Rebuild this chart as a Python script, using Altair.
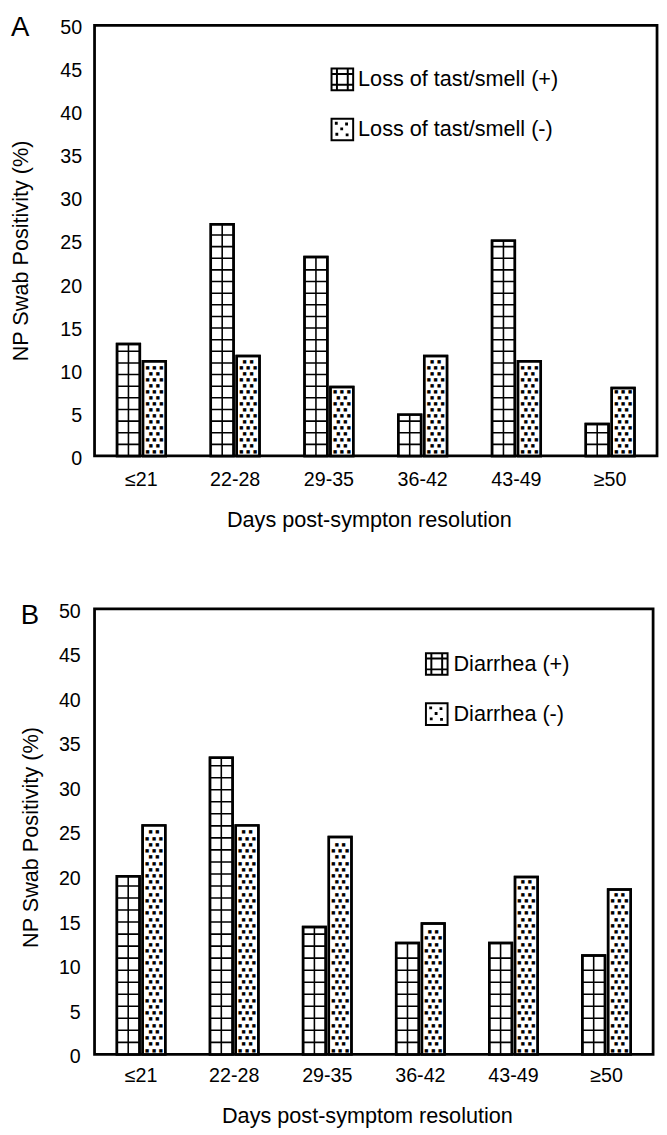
import altair as alt
import pandas as pd

# ---------------- data ----------------
categories = ["≤21", "22-28", "29-35", "36-42", "43-49", "≥50"]

a_series = ["Loss of tast/smell (+)", "Loss of tast/smell (-)"]
a_pos = [13.0, 26.9, 23.1, 4.8, 25.0, 3.7]
a_neg = [11.0, 11.6, 8.0, 11.6, 11.0, 7.9]

b_series = ["Diarrhea (+)", "Diarrhea (-)"]
b_pos = [20.0, 33.3, 14.3, 12.5, 12.5, 11.1]
b_neg = [25.7, 25.7, 24.4, 14.7, 19.9, 18.5]

y_ticks = [0, 5, 10, 15, 20, 25, 30, 35, 40, 45, 50]

# ---------------- style ----------------
FONT = "Liberation Sans"
GRID_STEP = 1.35   # texture spacing of the grid fill (value units)
DOT_STEP = 0.7     # texture spacing of the dotted fill (value units)

HATCH_PATH = "M-1,-1H1V1H-1Z M-0.5,-1V1 M0.5,-1V1 M-1,-0.5H1 M-1,0.5H1"
DOT_PATH = ("M-1,-1H1V1H-1Z M-0.6,-0.62h0.08v0.08h-0.08Z M0.35,-0.55h0.08v0.08h-0.08Z "
            "M-0.1,-0.1h0.08v0.08h-0.08Z M-0.55,0.4h0.08v0.08h-0.08Z M0.4,0.45h0.08v0.08h-0.08Z")

GEOM_A = dict(w=572, h=438, xlp=14.5, xtx=279, xty=54.5, ylp=13, ytx=-63, yty=229,
              lx=-85, ly=-11.5, legx=240, legy=43, lbo=4, rowpad=21)
GEOM_B = dict(w=568, h=453, xlp=11.5, xtx=277, xty=52.5, ylp=14.5, ytx=-53, yty=232,
              lx=-75, ly=-7, legx=336, legy=44, lbo=5, rowpad=21)


def panel(letter, series, pos, neg, x_title, g):
    bars = pd.DataFrame({
        "cat": categories * 2,
        "series": [series[0]] * len(categories) + [series[1]] * len(categories),
        "value": pos + neg,
    })

    hatch_rows = []
    for c, v in zip(categories, pos):
        k = 1
        while k * GRID_STEP < v - 0.4:
            hatch_rows.append({"cat": c, "series": series[0], "value": k * GRID_STEP})
            k += 1
    hatch = pd.DataFrame(hatch_rows)

    dot_rows = []
    for c, v in zip(categories, neg):
        k = 0
        while (k + 0.6) * DOT_STEP < v - 0.3:
            dot_rows.append({"cat": c, "series": series[1],
                             "value": (k + 0.6) * DOT_STEP, "row": k % 2})
            k += 1
    dots = pd.DataFrame(dot_rows)

    x = alt.X("cat:N", sort=categories,
              scale=alt.Scale(domain=categories, paddingInner=0.48, paddingOuter=0.24),
              axis=alt.Axis(title=x_title, labelAngle=0, ticks=False, tickSize=0, domain=False,
                            labelPadding=g["xlp"], labelFontSize=20, titleFontSize=22,
                            titleX=g["xtx"], titleY=g["xty"], titleFontWeight="normal"))
    xo = alt.XOffset("series:N", sort=series,
                     scale=alt.Scale(domain=series, paddingInner=0.12, paddingOuter=0))
    y = alt.Y("value:Q", stack=False,
              scale=alt.Scale(domain=[0, 50], nice=False, zero=True),
              axis=alt.Axis(values=y_ticks, title="NP Swab Positivity (%)", ticks=False,
                            tickSize=0, domain=False, grid=False, labelPadding=g["ylp"],
                            labelFontSize=20, titleFontSize=22, titleX=g["ytx"],
                            titleY=g["yty"], labelOffset=2.5, labelFlush=False,
                            labelOverlap=False, titleFontWeight="normal"))

    base = alt.Chart(bars).mark_bar(fill="white", stroke="black", strokeWidth=2.5).encode(
        x=x, xOffset=xo, y=y)

    hatch_lines = alt.Chart(hatch).mark_bar(fill="transparent", stroke="black",
                                            strokeWidth=1.6).encode(
        x=x, xOffset=xo, y=y, y2=alt.Y2("value:Q"))

    center_line = alt.Chart(bars).transform_filter(
        alt.datum.series == series[0]
    ).mark_rule(stroke="black", strokeWidth=1.6).encode(
        x=x, xOffset=xo, y=y, y2=alt.datum(0))

    dot_layers = []
    for parity, offsets in ((0, (-7, 0, 7)), (1, (-3.5, 3.5))):
        for d in offsets:
            dot_layers.append(
                alt.Chart(dots).transform_filter(alt.datum.row == parity)
                .mark_text(text="■", font="DejaVu Sans", fontSize=4.5, color="black",
                           align="center", baseline="middle", dx=d)
                .encode(x=x, xOffset=xo, y=y)
            )

    outline = alt.Chart(bars).mark_bar(fill="transparent", stroke="black",
                                       strokeWidth=2.5).encode(x=x, xOffset=xo, y=y)

    legend = alt.Chart(bars).transform_filter("false").mark_point(
        filled=False, color="black", strokeWidth=2, size=484, opacity=1
    ).encode(
        shape=alt.Shape("series:N",
                        scale=alt.Scale(domain=series, range=[HATCH_PATH, DOT_PATH]),
                        legend=alt.Legend(title=None, orient="none", legendX=g["legx"],
                                          legendY=g["legy"], symbolSize=484,
                                          symbolStrokeColor="black",
                                          symbolStrokeWidth=2, symbolOpacity=1,
                                          labelFontSize=22, labelFont=FONT,
                                          labelColor="black", labelLimit=500,
                                          labelOffset=g["lbo"], rowPadding=g["rowpad"],
                                          padding=0, offset=0))
    )

    tag = alt.Chart(pd.DataFrame({"t": [letter]})).mark_text(
        align="left", baseline="top", fontSize=28, font=FONT, color="black"
    ).encode(x=alt.value(g["lx"]), y=alt.value(g["ly"]), text="t:N")

    return alt.layer(base, hatch_lines, center_line, *dot_layers, outline, legend, tag).properties(
        width=g["w"], height=g["h"])


chart_a = panel("A", a_series, a_pos, a_neg, "Days post-sympton resolution", GEOM_A)
chart_b = panel("B", b_series, b_pos, b_neg, "Days post-symptom resolution", GEOM_B)

chart = alt.concat(chart_a, chart_b, columns=1, spacing=69.5, align="none").resolve_scale(
    x="independent", y="independent", xOffset="independent", shape="independent"
).resolve_legend(shape="independent").resolve_axis(
    x="independent", y="independent"
).properties(
    padding={"top": -5, "left": 0, "right": 0, "bottom": 0}
).configure_view(
    stroke="black", strokeWidth=2.8
).configure_axis(
    labelFont=FONT, titleFont=FONT, labelColor="black", titleColor="black"
).configure_legend(labelFont=FONT, labelColor="black")

chart.save("out.html", embed_options={"renderer": "svg", "actions": False})
